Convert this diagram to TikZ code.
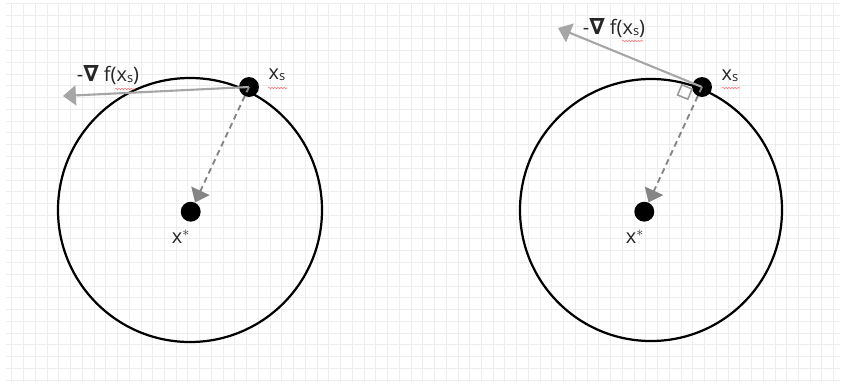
\documentclass[tikz,border=0pt]{standalone}
\usepackage{fontspec}
\setmainfont{Open Sans}
\newfontfamily\nablafont{DejaVu Sans}
\usetikzlibrary{arrows.meta, decorations.pathmorphing, positioning}

\newcommand{\xsub}{x\raisebox{-0.8pt}{\fontsize{11}{12}\selectfont s}}
\newcommand{\nablasym}{{\nablafont\bfseries\fontsize{19}{20}\selectfont ∇}}

\begin{document}
\begin{tikzpicture}[x=0.03cm, y=-0.03cm]
\tikzstyle{gridline} = [draw=black!7, line width=0.6pt]
\tikzstyle{ring} = [draw=black, line width=1.9pt]
\tikzstyle{dot} = [circle, fill=black, inner sep=0pt, minimum size=17pt]
\tikzstyle{lbl} = [font=\fontsize{17}{19}\selectfont, text=black!85, inner sep=1pt]
\tikzstyle{gradarrow} = [draw=black!35, line width=1.8pt,
    -{Triangle[length=11pt,width=17pt]}]
\tikzstyle{distarrow} = [draw=black!48, line width=1.6pt,
    dash pattern=on 5pt off 3.5pt, -{Triangle[length=11pt,width=17pt]}]
\tikzstyle{rightangle} = [draw=black!40, line width=1.3pt]
\tikzstyle{squiggle} = [draw=red!55, line width=0.5pt, decorate,
    decoration={snake, amplitude=0.6pt, segment length=2.6pt}]

\useasboundingbox[fill=white] (0,0) rectangle (845,383);

% --- background grid ---
\foreach \k in {1,...,71}
    \draw[gridline] (\k*11.74,3) -- (\k*11.74,382);
\foreach \k in {0,...,32}
    \draw[gridline] (6,3.2+\k*11.78) -- (840,3.2+\k*11.78);

% --- left: gradient not tangent ---
\coordinate (c1) at (190,210);
\draw[ring] (c1) circle[radius=3.96cm];
\node (xstar1) [dot] at (190.7,211.7) {};
\node (xs1) [dot] at (249,87) {};
\coordinate (g1) at (63,96);
\draw[gradarrow] (xs1.center) -- (g1);
\draw[distarrow] (xs1.center) -- (xstar1);

\node (grad1) [lbl] at (108,75) {-\nablasym\ f(\xsub)};
\node (lxs1) [lbl] at (277,75) {\xsub};
\node (lxstar1) [lbl] at (181,237) {x$^{*}$};
\draw[squiggle] (115,89) -- (135,89);
\draw[squiggle] (268,88) -- (287,88);

% --- right: gradient tangent to the circle ---
\coordinate (c2) at (651,210);
\draw[ring] (c2) circle[radius=3.93cm];
\node (xstar2) [dot] at (644.3,211.7) {};
\node (xs2) [dot] at (702,87) {};
\coordinate (g2) at (558,28);
\draw[rightangle] (692,89) -- (681.8,84.8) -- (677.6,95) -- (687.8,99.2) -- cycle;
\draw[gradarrow] (xs2.center) -- (g2);
\draw[distarrow] (xs2.center) -- (xstar2);

\node (grad2) [lbl] at (614,28) {-\nablasym\ f(\xsub)};
\node (lxs2) [lbl] at (730,76) {\xsub};
\node (lxstar2) [lbl] at (635,237) {x$^{*}$};
\draw[squiggle] (622,41) -- (643,41);
\draw[squiggle] (722,88) -- (740,88);
\end{tikzpicture}
\end{document}
